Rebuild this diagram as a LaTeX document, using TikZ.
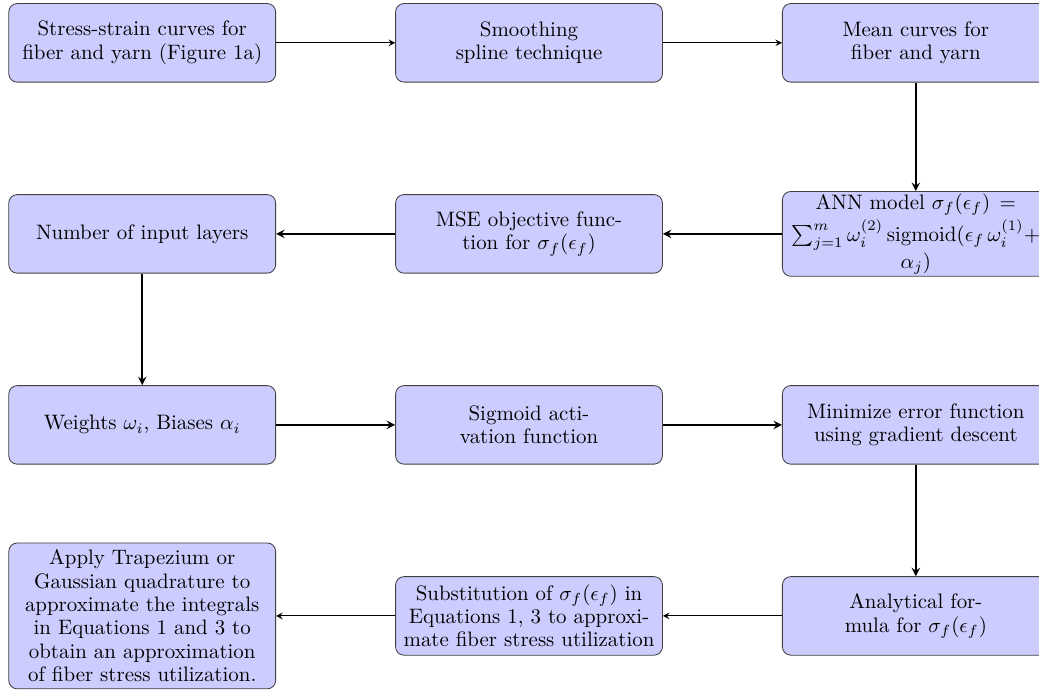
\documentclass[tikz,border=0pt]{standalone}
\usepackage{amsmath}
\usepackage{tikz}
\usetikzlibrary{positioning,arrows}
\tikzstyle{process} = [rectangle, rounded corners, minimum width=4.47cm, minimum height=1.32cm, text width=4.25cm, align=center, inner sep=0.333em, draw=black!75, fill=blue!20, font=\linespread{0.93}\selectfont]
\tikzstyle{arrow}   = [->,>=stealth]
\tikzstyle{tarrow}  = [arrow, thick]

\begin{document}
\begin{tikzpicture}[node distance=3.21cm and 6.5cm, on grid]
		\clip (0,0) rectangle (17.46,-11.61);
		\useasboundingbox (0,0) rectangle (17.46,-11.61);

		% row 1
		\node[process] (curves) at (2.39,-0.72) {Stress-strain curves for\\ fiber and yarn (Figure 1a)};
		\node[process, right=of curves] (spline) {Smoothing\\ spline technique};
		\node[process, right=of spline] (mean) {Mean curves for\\ fiber and yarn};

		% row 2
		\node[process, below=of mean, inner ysep=1pt] (ann) {ANN model $\sigma_f(\epsilon_f)=$\\[1pt] $\sum_{j=1}^{m}\omega_i^{(2)}\,\mathrm{sigmoid}(\epsilon_f\,\omega_i^{(1)}+$\\ $\alpha_j)$};
		\node[process, left=of ann] (mse) {MSE objective func-\\ tion for $\sigma_f(\epsilon_f)$};
		\node[process, left=of mse] (layers) {Number of input layers};

		% row 3
		\node[process, below=of layers] (weights) {Weights $\omega_i$, Biases $\alpha_i$};
		\node[process, right=of weights] (sigmoid) {Sigmoid acti-\\ vation function};
		\node[process, right=of sigmoid] (minimize) {Minimize error function\\ using gradient descent};

		% row 4
		\node[process, below=of minimize] (formula) {Analytical for-\\ mula for $\sigma_f(\epsilon_f)$};
		\node[process, left=of formula] (subst) {Substitution of $\sigma_f(\epsilon_f)$ in\\ Equations 1, 3 to approxi-\\ mate fiber stress utilization};
		\node[process, left=of subst] (quad) {Apply Trapezium or\\ Gaussian quadrature to\\ approximate the integrals\\ in Equations 1 and 3 to\\ obtain an approximation\\ of fiber stress utilization.};

		\draw[arrow] (curves) -- (spline);
		\draw[arrow] (spline) -- (mean);
		\draw[tarrow] (mean) -- (ann);
		\draw[tarrow] (ann) -- (mse);
		\draw[tarrow] (mse) -- (layers);
		\draw[tarrow] (layers) -- (weights);
		\draw[tarrow] (weights) -- (sigmoid);
		\draw[tarrow] (sigmoid) -- (minimize);
		\draw[tarrow] (minimize) -- (formula);
		\draw[arrow] (formula) -- (subst);
		\draw[arrow] (subst) -- (quad);
	\end{tikzpicture}
\end{document}
